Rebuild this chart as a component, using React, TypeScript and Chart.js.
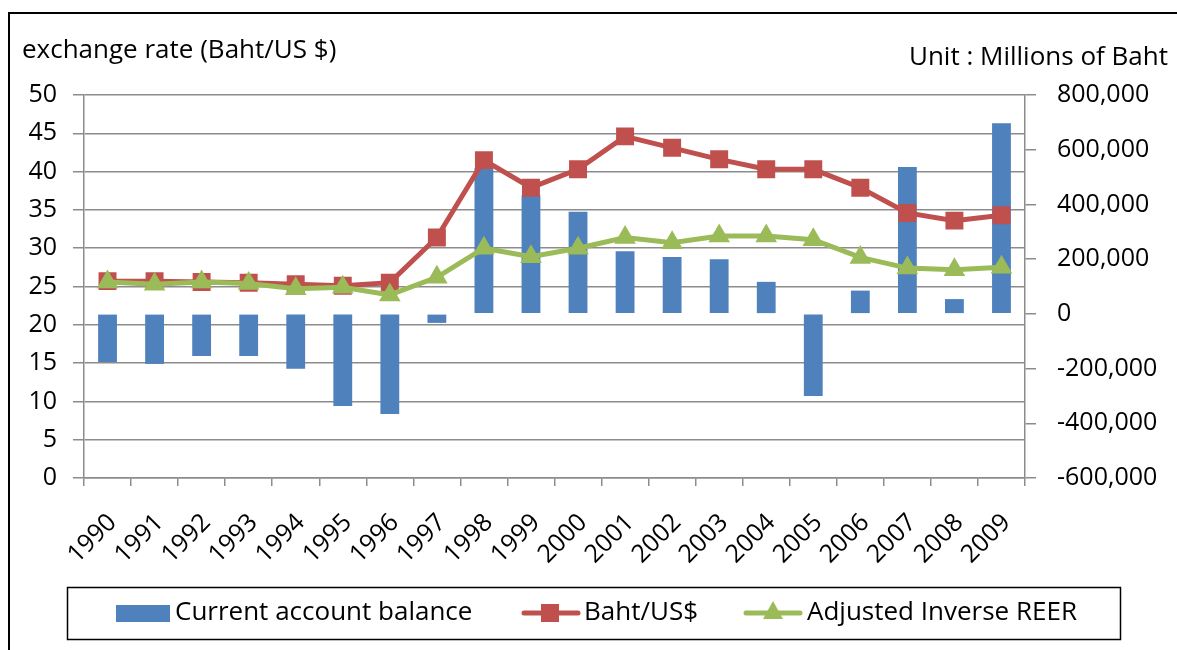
import { useEffect, useRef } from "react";
import { Chart, registerables } from "chart.js";

Chart.register(...registerables);

const years = ["1990", "1991", "1992", "1993", "1994", "1995", "1996", "1997", "1998", "1999", "2000", "2001", "2002", "2003", "2004", "2005", "2006", "2007", "2008", "2009"];
const currentAccount = [-176000, -183000, -154000, -154000, -201000, -337000, -366000, -33000, 533000, 434000, 373000, 229000, 208000, 200000, 117000, -300000, 85000, 537000, 54000, 697000];
const bahtUsd = [25.7, 25.7, 25.6, 25.5, 25.3, 25.1, 25.5, 31.4, 41.5, 37.9, 40.3, 44.6, 43.1, 41.6, 40.3, 40.3, 37.9, 34.6, 33.6, 34.3];
const inverseReer = [25.6, 25.3, 25.6, 25.4, 24.7, 24.9, 23.9, 26.2, 30.0, 28.9, 30.0, 31.4, 30.7, 31.6, 31.6, 31.1, 28.8, 27.4, 27.2, 27.5];
const leftAxis = { min: 0, max: 50, step: 5 };
const rightAxis = { min: -600000, max: 800000, step: 200000 };
const seriesLabels = ["Current account balance", "Baht/US$", "Adjusted Inverse REER"];
const leftTitle = "exchange rate (Baht/US $)";
const rightTitle = "Unit : Millions of Baht";

const FONT = "'Open Sans', sans-serif";
const BLUE = "#4F81BD";
const RED = "#C0504D";
const GREEN = "#9BBB59";
const GRID = "#8C8C8C";

const framePlugin = {
  id: "frameAndTitles",
  beforeDraw(chart: any) {
    const ctx = chart.ctx;
    ctx.save();
    ctx.fillStyle = "#fff";
    ctx.fillRect(0, 0, chart.width, chart.height);
    ctx.restore();
  },
  afterDraw(chart: any) {
    const ctx = chart.ctx;
    ctx.save();
    // outer frame
    ctx.strokeStyle = "#000";
    ctx.lineWidth = 2;
    ctx.strokeRect(9, 13, chart.width + 20, chart.height + 20);
    // titles
    ctx.fillStyle = "#000";
    ctx.font = `26px ${FONT}`;
    ctx.textBaseline = "alphabetic";
    ctx.textAlign = "left";
    ctx.fillText(leftTitle, 22, 58);
    ctx.textAlign = "right";
    ctx.fillText(rightTitle, 1168, 65);

    // legend
    const ds = chart.data.datasets;
    ctx.lineWidth = 1.5;
    ctx.strokeRect(67.5, 587.5, 1053, 52);
    const cy = 613;
    ctx.textAlign = "left";
    ctx.textBaseline = "middle";
    ctx.font = `26px ${FONT}`;
    // bar item
    ctx.fillStyle = ds[0].backgroundColor;
    ctx.fillRect(116, 605, 54, 17);
    ctx.fillStyle = "#000";
    ctx.fillText(ds[0].label, 175, cy);
    // red line item
    ctx.strokeStyle = ds[1].borderColor;
    ctx.lineWidth = 5;
    ctx.lineCap = "round";
    ctx.beginPath();
    ctx.moveTo(524, cy);
    ctx.lineTo(578, cy);
    ctx.stroke();
    ctx.fillStyle = ds[1].pointBackgroundColor;
    ctx.fillRect(541, cy - 9, 18, 18);
    ctx.fillStyle = "#000";
    ctx.fillText(ds[1].label, 584, cy);
    // green line item
    ctx.strokeStyle = ds[2].borderColor;
    ctx.beginPath();
    ctx.moveTo(746, cy);
    ctx.lineTo(800, cy);
    ctx.stroke();
    ctx.fillStyle = ds[2].pointBackgroundColor;
    ctx.beginPath();
    ctx.moveTo(773, cy - 12);
    ctx.lineTo(783, cy + 6);
    ctx.lineTo(763, cy + 6);
    ctx.closePath();
    ctx.fill();
    ctx.fillStyle = "#000";
    ctx.fillText(ds[2].label, 807, cy);
    ctx.restore();
  },
};

export default function App() {
  const ref = useRef<HTMLCanvasElement | null>(null);
  useEffect(() => {
    if (!ref.current) return;
    const chart = new Chart(ref.current, {
      type: "bar",
      data: {
        labels: years,
        datasets: [
          {
            type: "bar",
            label: seriesLabels[0],
            data: currentAccount,
            backgroundColor: BLUE,
            yAxisID: "y1",
            categoryPercentage: 1,
            barPercentage: 0.4,
            order: 3,
          },
          {
            type: "line",
            label: seriesLabels[1],
            data: bahtUsd,
            borderColor: RED,
            backgroundColor: RED,
            pointBackgroundColor: RED,
            pointBorderColor: RED,
            borderWidth: 5,
            pointStyle: "rect",
            pointRadius: 12.7,
            pointBorderWidth: 0,
            yAxisID: "y",
            order: 2,
          } as any,
          {
            type: "line",
            label: seriesLabels[2],
            data: inverseReer,
            borderColor: GREEN,
            backgroundColor: GREEN,
            pointBackgroundColor: GREEN,
            pointBorderColor: GREEN,
            borderWidth: 5,
            pointStyle: "triangle",
            pointRadius: 12.5,
            pointBorderWidth: 0,
            yAxisID: "y",
            order: 1,
          } as any,
        ],
      },
      options: {
        animation: false,
        responsive: false,
        devicePixelRatio: 1,
        layout: { padding: { top: 95, left: 0, right: 0, bottom: 0 } },
        plugins: {
          legend: { display: false },
          tooltip: { enabled: false },
          title: { display: false },
        },
        scales: {
          x: {
            type: "category",
            offset: true,
            grid: {
              offset: true,
              drawOnChartArea: false,
              drawTicks: true,
              tickLength: 8,
              color: GRID,
              lineWidth: 1.5,
            },
            border: { display: true, color: GRID, width: 1.5 },
            ticks: {
              color: "#000",
              font: { family: FONT, size: 25 },
              maxRotation: 45,
              minRotation: 45,
              autoSkip: false,
              padding: 22,
              labelOffset: 5,
            },
            afterFit(scale: any) {
              scale.height = 172;
            },
          },
          y: {
            type: "linear",
            position: "left",
            min: leftAxis.min,
            max: leftAxis.max,
            grid: { color: GRID, lineWidth: 1.5, tickLength: 11, drawTicks: true },
            border: { display: true, color: GRID, width: 1.5 },
            ticks: {
              stepSize: leftAxis.step,
              color: "#000",
              font: { family: FONT, size: 25 },
              padding: 16,
            },
            afterFit(scale: any) {
              scale.width = 84;
            },
          },
          y1: {
            type: "linear",
            position: "right",
            min: rightAxis.min,
            max: rightAxis.max,
            grid: { drawOnChartArea: false, drawTicks: true, tickLength: 11, color: GRID, lineWidth: 1.5 },
            border: { display: true, color: GRID, width: 1.5 },
            ticks: {
              stepSize: rightAxis.step,
              color: "#000",
              font: { family: FONT, size: 25 },
              padding: 21,
              callback: (v: any) => Number(v).toLocaleString("en-US"),
            },
            afterFit(scale: any) {
              scale.width = 152;
            },
          },
        },
      },
      plugins: [framePlugin],
    });
    return () => chart.destroy();
  }, []);
  return (
    <div style={{ position: "absolute", left: 0, top: 0, width: 1177, height: 650 }}>
      <canvas ref={ref} width={1177} height={650} style={{ display: "block", width: 1177, height: 650 }} />
    </div>
  );
}
